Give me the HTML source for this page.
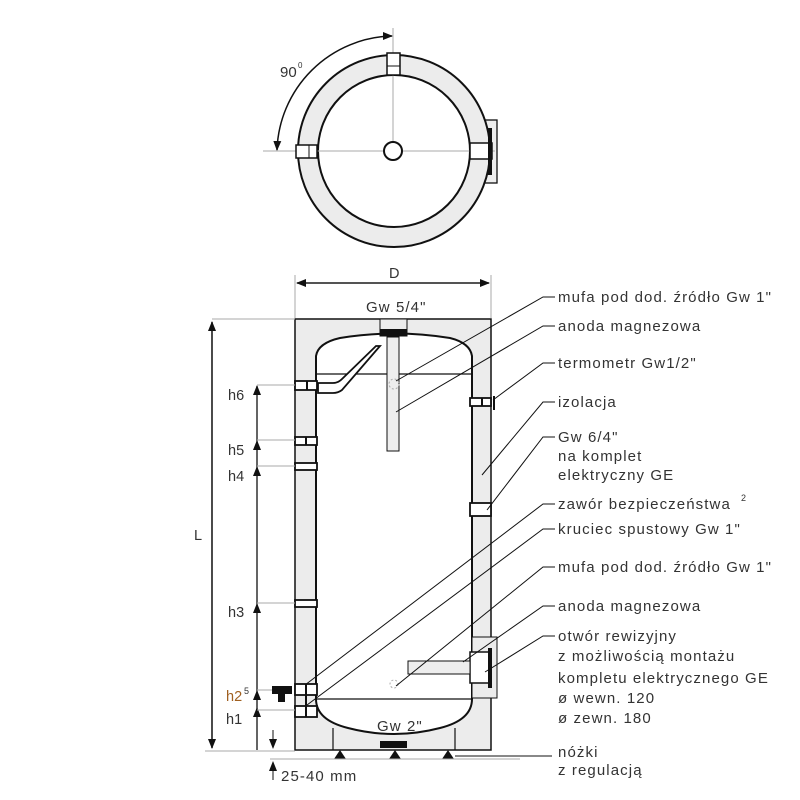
<!DOCTYPE html>
<html><head><meta charset="utf-8"><style>
body{margin:0;background:#fff;}
svg{display:block;}
text{font-family:"Liberation Sans",sans-serif;fill:#333;font-size:14.5px;}
.r{font-size:15px;letter-spacing:1.1px;}
</style></head><body>
<svg width="800" height="800" viewBox="0 0 800 800" xmlns="http://www.w3.org/2000/svg">
<defs>
<marker id="ar" markerWidth="10" markerHeight="8" refX="9" refY="4" orient="auto" markerUnits="userSpaceOnUse"><path d="M0,0 L10,4 L0,8 Z" fill="#111"/></marker>
</defs>
<!-- TOP VIEW -->
<rect x="470" y="120" width="27" height="63" fill="#eee" stroke="#111" stroke-width="1.3"/>
<circle cx="394" cy="151" r="96" fill="#ececec" stroke="#111" stroke-width="2"/>
<circle cx="394" cy="151" r="76" fill="#fff" stroke="#111" stroke-width="2"/>
<line x1="393" y1="28" x2="393" y2="150" stroke="#aaa" stroke-width="1"/>
<line x1="263" y1="151" x2="495" y2="151" stroke="#aaa" stroke-width="1"/>
<circle cx="393" cy="151" r="9" fill="#fff" stroke="#111" stroke-width="2"/>
<rect x="387" y="53" width="13" height="22" fill="#fff" stroke="#111" stroke-width="1.5"/>
<line x1="387" y1="66" x2="400" y2="66" stroke="#111"/>
<rect x="296" y="145" width="21" height="13" fill="#fff" stroke="#111" stroke-width="1.5"/>
<line x1="309" y1="145" x2="309" y2="158" stroke="#111"/>
<rect x="470" y="143" width="22" height="16" fill="#fff" stroke="#111" stroke-width="1.5"/>
<line x1="490" y1="128" x2="490" y2="175" stroke="#111" stroke-width="4"/>
<path d="M392,36 A118,118 0 0 0 277,150" fill="none" stroke="#111" stroke-width="1.5" marker-end="url(#ar)"/>
<path d="M386,36 L392,36" stroke="#111" marker-end="url(#ar)"/>
<text x="280" y="77" style="font-size:15px">90</text><text x="298" y="68" style="font-size:8px">0</text>

<!-- SIDE VIEW -->
<line x1="295" y1="275" x2="295" y2="318" stroke="#aaa"/>
<line x1="491" y1="275" x2="491" y2="318" stroke="#aaa"/>
<line x1="297" y1="283" x2="489" y2="283" stroke="#111" stroke-width="1.3" marker-end="url(#ar)"/>
<line x1="489" y1="283" x2="297" y2="283" stroke="#111" stroke-width="1.3" marker-end="url(#ar)"/>
<text x="389" y="278">D</text>
<text x="366" y="312" class="r">Gw 5/4"</text>

<rect x="295" y="319" width="196" height="431" fill="#ececec" stroke="#111" stroke-width="1.5"/>
<path d="M316,699 L316,356 Q318,343 340,338 Q394,329 450,338 Q470,343 472,356 L472,699 Q472,720 440,728 Q394,740 348,728 Q316,720 316,699 Z" fill="#fff" stroke="#111" stroke-width="2"/>
<path d="M333,750 L333,728 M455,750 L455,728" stroke="#111" stroke-width="1.2"/>
<line x1="316" y1="374" x2="472" y2="374" stroke="#111" stroke-width="1.2"/>
<line x1="316" y1="699" x2="472" y2="699" stroke="#111" stroke-width="1.2"/>
<rect x="380" y="319" width="27" height="17" fill="#ececec" stroke="#111"/>
<rect x="380" y="329" width="27" height="7" fill="#111"/>
<rect x="387" y="337" width="12" height="114" fill="#eee" stroke="#111"/>
<rect x="380" y="741" width="27" height="7" fill="#111"/>
<path d="M318,383 L333,383 Q338,383 342,379 L376,346 L380,346 L342,390 Q338,393 333,393 L318,393 Z" fill="#fff" stroke="#111" stroke-width="1.8"/>
<g fill="#fff" stroke="#111" stroke-width="1.8">
<rect x="295" y="381" width="22" height="9"/><rect x="295" y="437" width="22" height="8"/>
<rect x="295" y="463" width="22" height="7"/><rect x="295" y="600" width="22" height="7"/>
<rect x="295" y="684" width="22" height="11"/><rect x="295" y="706" width="22" height="11"/>
<rect x="470" y="398" width="21" height="8"/><rect x="470" y="503" width="21" height="13"/>
</g>
<g stroke="#111" stroke-width="2"><line x1="307" y1="381" x2="307" y2="390"/><line x1="306" y1="437" x2="306" y2="445"/><line x1="306" y1="684" x2="306" y2="717"/><line x1="482" y1="398" x2="482" y2="406"/><line x1="494" y1="396" x2="494" y2="410"/></g>
<path d="M272,686 L292,686 L292,694 L285,694 L285,702 L278,702 L278,694 L272,694 Z" fill="#111"/>
<rect x="472" y="637" width="25" height="61" fill="#ececec" stroke="#111"/>
<rect x="470" y="652" width="20" height="31" fill="#fff" stroke="#111" stroke-width="1.5"/>
<line x1="490" y1="648" x2="490" y2="688" stroke="#111" stroke-width="4"/>
<rect x="408" y="661" width="62" height="13" fill="#eee" stroke="#111"/>
<circle cx="394" cy="684" r="4" fill="none" stroke="#aaa" stroke-dasharray="2 2"/>
<circle cx="394" cy="384" r="5" fill="none" stroke="#aaa" stroke-dasharray="2 2"/>
<g fill="#111"><path d="M334,759 L346,759 L340,750 Z"/><path d="M389,759 L401,759 L395,750 Z"/><path d="M442,759 L454,759 L448,750 Z"/></g>
<line x1="455" y1="756" x2="552" y2="756" stroke="#111"/>
<text x="377" y="731" class="r">Gw 2"</text>

<line x1="212" y1="748" x2="212" y2="322" stroke="#111" stroke-width="1.3" marker-end="url(#ar)"/>
<line x1="212" y1="322" x2="212" y2="748" stroke="#111" stroke-width="1.3" marker-end="url(#ar)"/>
<line x1="212" y1="319" x2="295" y2="319" stroke="#aaa"/>
<line x1="205" y1="751" x2="295" y2="751" stroke="#aaa"/>
<line x1="270" y1="759" x2="520" y2="759" stroke="#aaa"/>
<text x="194" y="540">L</text>
<line x1="257" y1="750" x2="257" y2="386" stroke="#111" stroke-width="1.3"/>
<g fill="#111">
<path d="M253,395 L261,395 L257,385Z"/><path d="M253,450 L261,450 L257,440Z"/><path d="M253,476 L261,476 L257,466Z"/>
<path d="M253,613 L261,613 L257,603Z"/><path d="M253,700 L261,700 L257,690Z"/><path d="M253,717 L261,717 L257,707Z"/>
</g>
<g stroke="#aaa"><line x1="257" y1="385" x2="295" y2="385"/><line x1="257" y1="440" x2="295" y2="440"/><line x1="257" y1="466" x2="295" y2="466"/><line x1="257" y1="603" x2="295" y2="603"/><line x1="257" y1="690" x2="272" y2="690"/><line x1="257" y1="710" x2="295" y2="710"/></g>
<text x="228" y="400">h6</text><text x="228" y="455">h5</text><text x="228" y="481">h4</text><text x="228" y="617">h3</text>
<text x="226" y="701" style="fill:#a06020">h2</text><text x="244" y="694" style="font-size:9px">5</text><text x="226" y="724">h1</text>
<line x1="273" y1="730" x2="273" y2="748" stroke="#111" marker-end="url(#ar)"/>
<line x1="273" y1="780" x2="273" y2="762" stroke="#111" marker-end="url(#ar)"/>
<text x="281" y="781" class="r">25-40 mm</text>

<g stroke="#111" stroke-width="1" fill="none">
<path d="M555,297 L543,297 L396,381"/>
<path d="M555,326 L543,326 L396,412"/>
<path d="M555,363 L543,363 L493,400"/>
<path d="M555,402 L543,402 L482,475"/>
<path d="M555,437 L543,437 L487,510"/>
<path d="M555,504 L543,504 L305,685"/>
<path d="M555,529 L543,529 L307,705"/>
<path d="M555,567 L543,567 L396,686"/>
<path d="M555,606 L543,606 L463,662"/>
<path d="M555,636 L543,636 L485,672"/>
</g>
<g class="r">
<text x="558" y="302" class="r">mufa pod dod. źródło Gw 1"</text>
<text x="558" y="331" class="r">anoda magnezowa</text>
<text x="558" y="368" class="r">termometr Gw1/2"</text>
<text x="558" y="407" class="r">izolacja</text>
<text x="558" y="442" class="r">Gw 6/4"</text>
<text x="558" y="461" class="r">na komplet</text>
<text x="558" y="480" class="r">elektryczny GE</text>
<text x="558" y="509" class="r">zawór bezpieczeństwa</text>
<text x="558" y="534" class="r">kruciec spustowy Gw 1"</text>
<text x="558" y="572" class="r">mufa pod dod. źródło Gw 1"</text>
<text x="558" y="611" class="r">anoda magnezowa</text>
<text x="558" y="641" class="r">otwór rewizyjny</text>
<text x="558" y="661" class="r">z możliwością montażu</text>
<text x="558" y="683" class="r">kompletu elektrycznego GE</text>
<text x="558" y="703" class="r">ø wewn. 120</text>
<text x="558" y="723" class="r">ø zewn. 180</text>
<text x="558" y="757" class="r">nóżki</text>
<text x="558" y="775" class="r">z regulacją</text>
</g>
<text x="741" y="501" style="font-size:9px">2</text>
</svg>
</body></html>
